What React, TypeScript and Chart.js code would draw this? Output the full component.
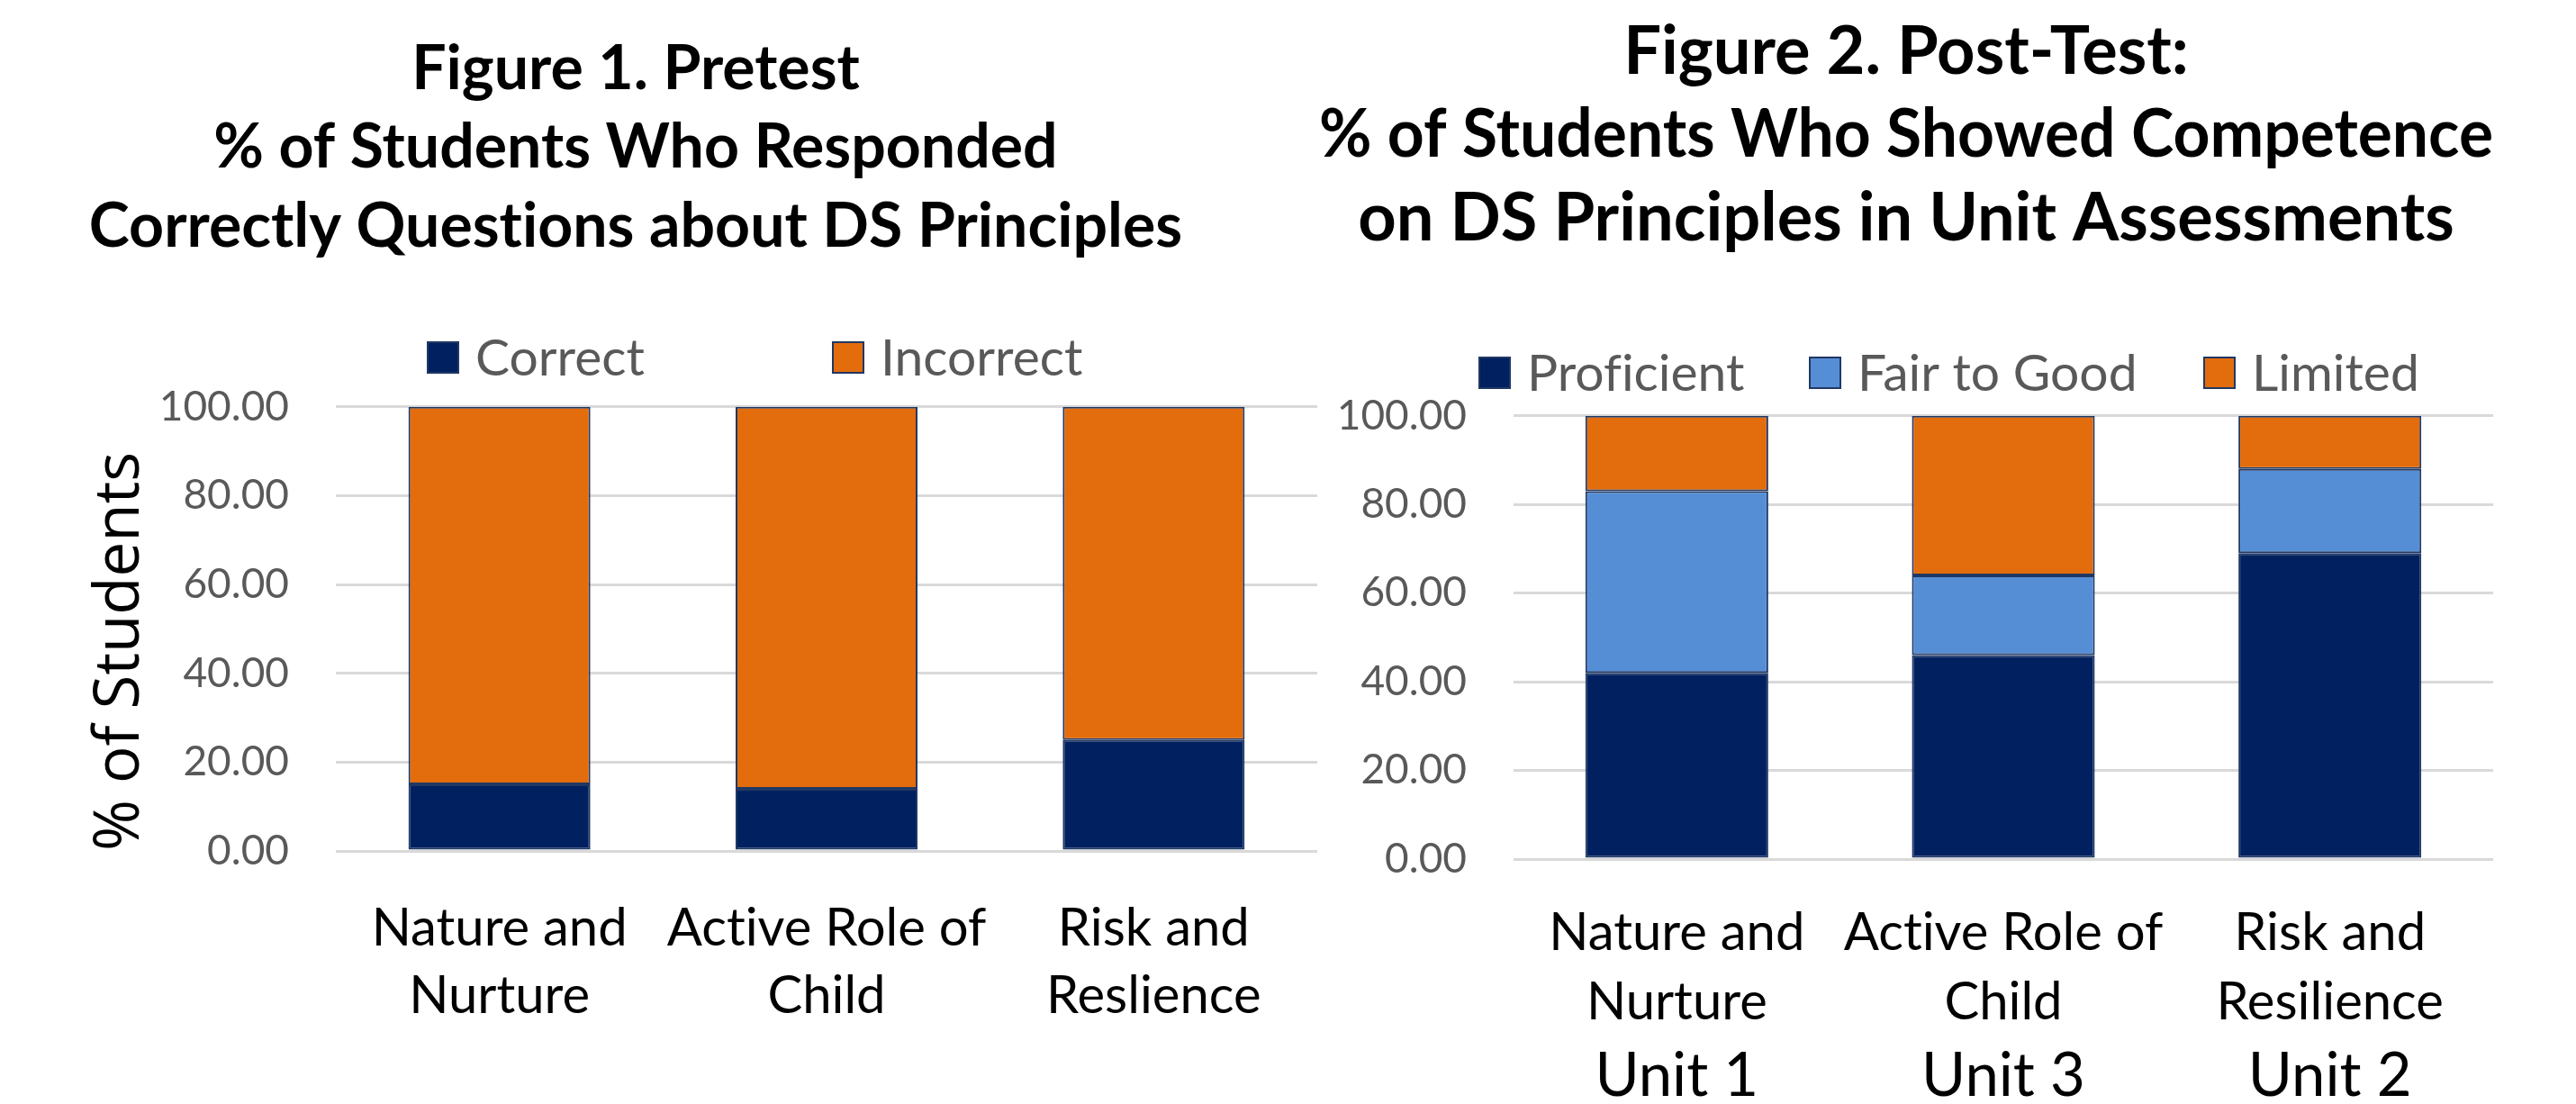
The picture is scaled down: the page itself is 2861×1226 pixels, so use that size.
import React, { useEffect, useRef } from "react";
import { Chart, registerables } from "chart.js";

Chart.register(...registerables);

// ---------- data ----------
const pretestTitle = [
  "Figure 1. Pretest",
  "% of Students Who Responded",
  "Correctly Questions about DS Principles",
];
const pretestCategories = [
  ["Nature and", "Nurture"],
  ["Active Role of", "Child"],
  ["Risk and", "Reslience"],
];
const pretestCorrect = [15, 14, 25];
const pretestIncorrect = [85, 86, 75];

const posttestTitle = [
  "Figure 2. Post-Test:",
  "% of Students Who Showed Competence",
  "on DS Principles in Unit Assessments",
];
const posttestCategories = [
  ["Nature and", "Nurture"],
  ["Active Role of", "Child"],
  ["Risk and", "Resilience"],
];
const posttestUnits = ["Unit 1", "Unit 3", "Unit 2"];
const proficient = [42, 46, 69];
const fairToGood = [41, 18, 19];
const limited = [17, 36, 12];

const yTickValues = [0, 20, 40, 60, 80, 100];
const yAxisTitle = "% of Students";

// ---------- styles ----------
const NAVY = "#002060";
const ORANGE = "#E36C0C";
const LIGHTBLUE = "#558ED5";
const BORDER = "#203864";
const GRID = "#D9D9D9";
const TICK_GRAY = "#595959";
const FONT = "Lato";

const noLigatures = {
  id: "noLigatures",
  beforeUpdate(chart: any) {
    try {
      (chart.ctx as any).textRendering = "optimizeSpeed";
    } catch (e) {}
  },
  beforeDraw(chart: any) {
    try {
      (chart.ctx as any).textRendering = "optimizeSpeed";
    } catch (e) {}
  },
};

type LegendCfg = { xs: number[]; y: number; box: number; gap: number; size: number };

function makeLegendPlugin(cfg: LegendCfg) {
  return {
    id: "boxLegend",
    afterDraw(chart: any) {
      const ctx = chart.ctx;
      ctx.save();
      ctx.font = `${cfg.size}px ${FONT}`;
      ctx.textBaseline = "middle";
      ctx.textAlign = "left";
      chart.data.datasets.forEach((ds: any, i: number) => {
        const x = cfg.xs[i];
        const s = cfg.box;
        ctx.fillStyle = ds.backgroundColor;
        ctx.fillRect(x, cfg.y - s / 2, s, s);
        ctx.strokeStyle = BORDER;
        ctx.lineWidth = 2;
        ctx.strokeRect(x + 1, cfg.y - s / 2 + 1, s - 2, s - 2);
        ctx.fillStyle = TICK_GRAY;
        ctx.fillText(ds.label, x + s + cfg.gap, cfg.y + 2);
      });
      ctx.restore();
    },
  };
}

function makeUnitPlugin(units: string[], y: number, size: number) {
  return {
    id: "unitLabels",
    afterDraw(chart: any) {
      const ctx = chart.ctx;
      const xs = chart.scales.x;
      ctx.save();
      ctx.font = `${size}px ${FONT}`;
      ctx.fillStyle = "#000";
      ctx.textAlign = "center";
      ctx.textBaseline = "middle";
      units.forEach((u, i) => {
        ctx.fillText(u, xs.getPixelForValue(i), y);
      });
      ctx.restore();
    },
  };
}

function yScale(width: number, withTitle: boolean) {
  return {
    stacked: true,
    min: 0,
    max: 100,
    afterBuildTicks: (s: any) => {
      s.ticks = yTickValues.map((v) => ({ value: v }));
    },
    afterFit: (s: any) => {
      s.width = width;
    },
    ticks: {
      callback: (v: any) => Number(v).toFixed(2),
      color: TICK_GRAY,
      font: { family: FONT, size: 46 },
      padding: 52,
    },
    grid: { color: GRID, lineWidth: 3, drawTicks: false },
    border: { display: false },
    title: withTitle
      ? {
          display: true,
          text: yAxisTitle,
          align: "start",
          color: "#000",
          font: { family: "Open Sans", size: 69, lineHeight: 1.2 },
          padding: { top: 143.6, bottom: 0 },
        }
      : { display: false },
  };
}

function xScale(height: number, lineHeightPx: number, padding: number) {
  return {
    stacked: true,
    afterFit: (s: any) => {
      s.height = height;
    },
    ticks: {
      color: "#000",
      font: { family: FONT, size: 58, lineHeight: lineHeightPx / 58 },
      padding,
      maxRotation: 0,
      autoSkip: false,
    },
    grid: { display: false, drawTicks: false },
    border: { display: false },
  };
}

function PretestChart() {
  const ref = useRef<HTMLCanvasElement>(null);
  useEffect(() => {
    const chart = new Chart(ref.current!, {
      type: "bar",
      data: {
        labels: pretestCategories as any,
        datasets: [
          {
            label: "Correct",
            data: pretestCorrect,
            backgroundColor: NAVY,
            borderColor: BORDER,
            borderWidth: 2,
            borderSkipped: false,
            categoryPercentage: 1,
            barPercentage: 0.556,
          },
          {
            label: "Incorrect",
            data: pretestIncorrect,
            backgroundColor: ORANGE,
            borderColor: BORDER,
            borderWidth: 2,
            borderSkipped: false,
            categoryPercentage: 1,
            barPercentage: 0.556,
          },
        ],
      },
      options: {
        responsive: false,
        animation: false,
        devicePixelRatio: 1,
        layout: { padding: { left: 0, right: 40, top: 0, bottom: 0 } },
        plugins: {
          legend: { display: false },
          tooltip: { enabled: false },
          title: {
            display: true,
            text: pretestTitle,
            color: "#000",
            font: { family: FONT, weight: "bold", size: 68, lineHeight: 87.6 / 68 },
            padding: { top: 33, bottom: 156 },
          },
        },
        scales: {
          x: xScale(281, 75, 48.5) as any,
          y: yScale(424, true) as any,
        },
      },
      plugins: [
        noLigatures,
        makeLegendPlugin({ xs: [525, 975], y: 397, box: 36, gap: 18, size: 57 }),
      ],
    });
    return () => chart.destroy();
  }, []);
  return (
    <canvas
      ref={ref}
      width={1554}
      height={1226}
      style={{ position: "absolute", left: -51, top: 0, width: 1554, height: 1226 }}
    />
  );
}

function PosttestChart() {
  const ref = useRef<HTMLCanvasElement>(null);
  useEffect(() => {
    const common = {
      borderColor: BORDER,
      borderWidth: 2,
      borderSkipped: false,
      categoryPercentage: 1,
      barPercentage: 0.56,
    };
    const chart = new Chart(ref.current!, {
      type: "bar",
      data: {
        labels: posttestCategories as any,
        datasets: [
          { label: "Proficient", data: proficient, backgroundColor: NAVY, ...common },
          { label: "Fair to Good", data: fairToGood, backgroundColor: LIGHTBLUE, ...common },
          { label: "Limited", data: limited, backgroundColor: ORANGE, ...common },
        ] as any,
      },
      options: {
        responsive: false,
        animation: false,
        devicePixelRatio: 1,
        layout: { padding: { left: 0, right: 40, top: 0, bottom: 0 } },
        plugins: {
          legend: { display: false },
          tooltip: { enabled: false },
          title: {
            display: true,
            text: posttestTitle,
            color: "#000",
            font: { family: FONT, weight: "bold", size: 74, lineHeight: 92.5 / 74 },
            padding: { top: 11.75, bottom: 172.5 },
          },
        },
        scales: {
          x: xScale(272, 77, 43.5) as any,
          y: yScale(216, false) as any,
        },
      },
      plugins: [
        noLigatures,
        makeLegendPlugin({ xs: [177, 544, 982], y: 414, box: 36, gap: 18, size: 57 }),
        makeUnitPlugin(posttestUnits, 1195, 67),
      ],
    });
    return () => chart.destroy();
  }, []);
  return (
    <canvas
      ref={ref}
      width={1344}
      height={1226}
      style={{ position: "absolute", left: 1465, top: 0, width: 1344, height: 1226 }}
    />
  );
}

export default function App() {
  useEffect(() => {
    document.body.style.margin = "0";
  }, []);
  return (
    <div
      style={{
        position: "relative",
        width: 2861,
        height: 1226,
        overflow: "hidden",
        background: "#fff",
      }}
    >
      <PretestChart />
      <PosttestChart />
    </div>
  );
}
